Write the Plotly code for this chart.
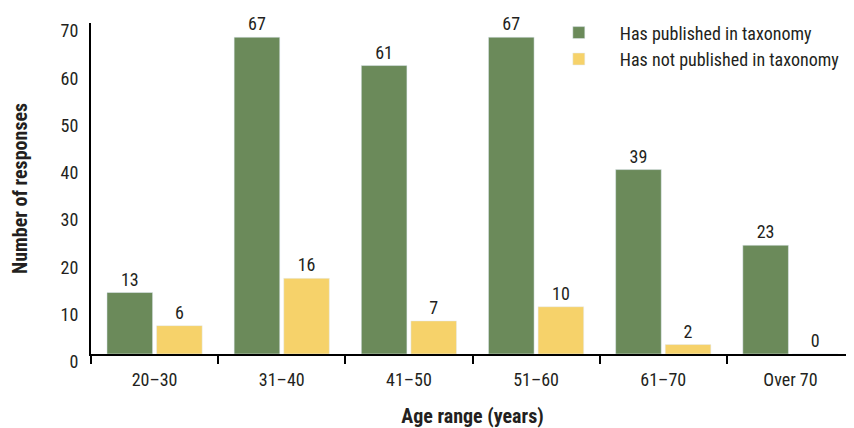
import plotly.graph_objects as go

categories = ["20–30", "31–40", "41–50", "51–60", "61–70", "Over 70"]
published = [13, 67, 61, 67, 39, 23]
not_published = [6, 16, 7, 10, 2, 0]
series_names = ["Has published in taxonomy", "Has not published in taxonomy"]
y_ticks = [0, 10, 20, 30, 40, 50, 60, 70]

GREEN = "#6B8A5A"
YELLOW = "#F6D26A"
FONT = "Liberation Sans Narrow, Roboto Condensed, Roboto"
TXT = "#231F20"

fig = go.Figure()
fig.add_trace(go.Bar(
    x=categories, y=published, name=series_names[0], marker_color=GREEN,
    legendgroup="a",
    text=[str(v) for v in published], textposition="outside",
    textfont=dict(family=FONT, size=18, color=TXT), cliponaxis=False,
))
fig.add_trace(go.Bar(
    x=categories, y=not_published, name=series_names[1], marker_color=YELLOW,
    legendgroup="b",
    text=[str(v) for v in not_published], textposition="outside",
    textfont=dict(family=FONT, size=18, color=TXT), cliponaxis=False,
))

fig.update_layout(
    width=846, height=420,
    margin=dict(l=83, r=0, t=15, b=74, autoexpand=False),
    paper_bgcolor="white", plot_bgcolor="white",
    barmode="group", bargap=0.22, bargroupgap=0.08,
    font=dict(family=FONT, size=18, color=TXT),
    showlegend=True,
    legend=dict(x=0.5856, y=1.026, xanchor="left", yanchor="top",
                bgcolor="rgba(0,0,0,0)", font=dict(family=FONT, size=18, color=TXT),
                traceorder="grouped", tracegroupgap=0, itemwidth=72),
)
fig.update_xaxes(
    automargin=False,
    showline=True, linecolor="black", linewidth=2,
    ticks="outside", tickson="boundaries", ticklen=8, tickwidth=2, tickcolor="black",
    tickfont=dict(family=FONT, size=18, color=TXT), ticklabelstandoff=8,
    title=dict(text="<b>Age range (years)</b>", font=dict(family=FONT, size=20, color=TXT), standoff=22),
    showgrid=False,
)
fig.update_yaxes(
    automargin=False,
    range=[0, 70], tickvals=y_ticks, showline=True, linecolor="black", linewidth=2,
    ticks="", showgrid=False, zeroline=False,
    tickfont=dict(family=FONT, size=18, color=TXT), ticklabelshift=8, ticklabelstandoff=7,
    title=dict(text="<b>Number of responses</b>", font=dict(family=FONT, size=20, color=TXT), standoff=33),
)
fig.write_html("out.html")
